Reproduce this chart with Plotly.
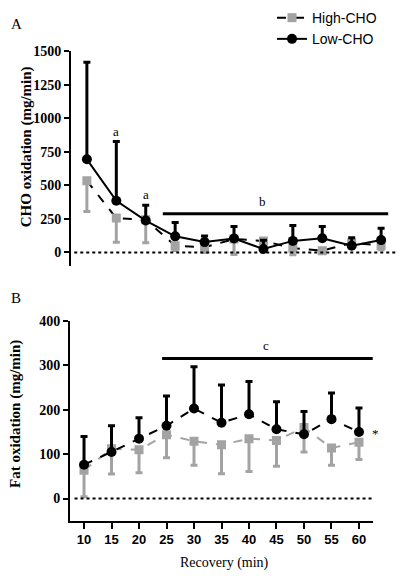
import plotly.graph_objects as go

time_min = [10, 15, 20, 25, 30, 35, 40, 45, 50, 55, 60]

# Panel A: CHO oxidation (mg/min)
cho_high_mean = [534, 256, 244, 50, 38, 100, 86, 32, 13, 70, 52]
cho_high_lower = [305, 76, 72, 15, 0, -15, 30, -17, 0, 40, 20]
cho_low_mean = [695, 385, 238, 120, 77, 104, 25, 86, 106, 50, 92]
cho_low_upper = [1420, 828, 352, 224, 122, 193, 90, 201, 193, 110, 180]

# Panel B: Fat oxidation (mg/min)
fat_high_mean = [64, 112, 110, 144, 129, 121, 135, 131, 160, 114, 127]
fat_high_lower = [4, 55, 58, 92, 75, 56, 61, 73, 105, 75, 88]
fat_low_mean = [76, 105, 135, 164, 203, 171, 190, 156, 145, 179, 150]
fat_low_upper = [140, 164, 182, 231, 297, 256, 264, 218, 196, 238, 204]

cho_ticks = [0, 250, 500, 750, 1000, 1250, 1500]
fat_ticks = [0, 100, 200, 300, 400]

GREY = "#a3a3a3"
SERIF = "Liberation Serif"
SANS = "Liberation Sans"


def diff(a, b):
    return [x - y for x, y in zip(a, b)]


fig = go.Figure()

# Panel A
fig.add_trace(go.Scatter(
    x=time_min, y=cho_high_mean, name="High-CHO", mode="lines+markers",
    line=dict(color="black", width=2, dash="dash"),
    marker=dict(symbol="square", size=9, color=GREY),
    error_y=dict(type="data", symmetric=False, array=[0] * len(time_min),
                 arrayminus=diff(cho_high_mean, cho_high_lower),
                 color=GREY, thickness=3, width=3.5),
    xaxis="x", yaxis="y"))
fig.add_trace(go.Scatter(
    x=time_min, y=cho_low_mean, name="Low-CHO", mode="lines+markers",
    line=dict(color="black", width=2),
    marker=dict(symbol="circle", size=10, color="black"),
    error_y=dict(type="data", symmetric=False, array=diff(cho_low_upper, cho_low_mean),
                 arrayminus=[0] * len(time_min),
                 color="black", thickness=3, width=3.5),
    xaxis="x", yaxis="y"))

# Panel B
fig.add_trace(go.Scatter(
    x=time_min, y=fat_high_mean, name="High-CHO", mode="lines+markers", showlegend=False,
    line=dict(color=GREY, width=2, dash="dash"),
    marker=dict(symbol="square", size=9, color=GREY),
    error_y=dict(type="data", symmetric=False, array=[0] * len(time_min),
                 arrayminus=diff(fat_high_mean, fat_high_lower),
                 color=GREY, thickness=3, width=3.5),
    xaxis="x2", yaxis="y2"))
fig.add_trace(go.Scatter(
    x=time_min, y=fat_low_mean, name="Low-CHO", mode="lines+markers", showlegend=False,
    line=dict(color="black", width=2, dash="dash"),
    marker=dict(symbol="circle", size=10, color="black"),
    error_y=dict(type="data", symmetric=False, array=diff(fat_low_upper, fat_low_mean),
                 arrayminus=[0] * len(time_min),
                 color="black", thickness=3, width=3.5),
    xaxis="x2", yaxis="y2"))


def yax(**kw):
    d = dict(showline=True, linecolor="black", linewidth=2, ticks="outside",
             ticklen=5, tickwidth=2, tickcolor="black", showgrid=False, zeroline=False,
             tickfont=dict(family=SERIF, size=14, color="black", weight="bold"))
    d.update(kw)
    return d


fig.update_layout(
    width=400, height=576,
    margin=dict(l=0, r=0, t=0, b=0),
    paper_bgcolor="white", plot_bgcolor="white",
    font=dict(family=SERIF, color="black"),
    xaxis=dict(domain=[71 / 400, 397 / 400], range=[7.3, 62.7], visible=False,
               anchor="y"),
    yaxis=yax(domain=[1 - 262 / 576, 1 - 45 / 576], range=[-100, 1500],
              tickvals=cho_ticks, anchor="x"),
    xaxis2=dict(domain=[70 / 400, 373 / 400], range=[7.45, 62.55], anchor="y2",
                showline=True, linecolor="black", linewidth=2, ticks="outside",
                ticklen=6, tickwidth=2, tickcolor="black", showgrid=False, zeroline=False,
                tickvals=time_min,
                tickfont=dict(family=SANS, size=13, color="black", weight="bold")),
    yaxis2=yax(domain=[1 - 520 / 576, 1 - 318 / 576], range=[-50, 400],
               tickvals=fat_ticks, anchor="x2"),
    legend=dict(x=272 / 400, y=1 + 5 / 576, xanchor="left", yanchor="top",
                font=dict(family=SANS, size=14, color="black"),
                bgcolor="rgba(0,0,0,0)", tracegroupgap=0),
    showlegend=True,
)

# zero dotted lines
fig.add_shape(type="line", xref="x domain", yref="y", x0=0.01, x1=1, y0=0, y1=0,
              line=dict(color="black", width=2, dash="dot"))
fig.add_shape(type="line", xref="x2 domain", yref="y2", x0=0.015, x1=1, y0=0, y1=0,
              line=dict(color="black", width=2, dash="dot"))

# significance bars
fig.add_shape(type="line", xref="x", yref="y", x0=22.9, x1=61.2, y0=288, y1=288,
              line=dict(color="black", width=3))
fig.add_shape(type="line", xref="x2", yref="y2", x0=24.2, x1=62.5, y0=316, y1=316,
              line=dict(color="black", width=3))

annots = [
    dict(text="a", x=15, y=905, xref="x", yref="y"),
    dict(text="a", x=20, y=430, xref="x", yref="y"),
    dict(text="b", x=39.8, y=380, xref="x", yref="y"),
    dict(text="c", x=43.1, y=345, xref="x2", yref="y2"),
    dict(text="*", x=375 / 400, y=147, xref="paper", yref="y2"),
]
for a in annots:
    fig.add_annotation(showarrow=False, xanchor="center", yanchor="middle",
                       font=dict(family=SERIF, size=13, color="black"), **a)

paper_texts = [
    dict(text="A", x=16 / 400, y=1 - 17 / 576, font=dict(family=SERIF, size=15, color="black")),
    dict(text="B", x=16 / 400, y=1 - 295 / 576, font=dict(family=SERIF, size=15, color="black")),
    dict(text="CHO oxidation (mg/min)", x=26 / 400, y=1 - 142 / 576, textangle=-90,
         font=dict(family=SERIF, size=15, color="black", weight="bold")),
    dict(text="Fat oxidation (mg/min)", x=16 / 400, y=1 - 412 / 576, textangle=-90,
         font=dict(family=SERIF, size=15, color="black", weight="bold")),
    dict(text="Recovery (min)", x=224 / 400, y=1 - 563 / 576,
         font=dict(family=SERIF, size=14, color="black")),
]
for t in paper_texts:
    fig.add_annotation(xref="paper", yref="paper", showarrow=False,
                       xanchor="center", yanchor="middle", **t)

fig.write_html("out.html", config={"displayModeBar": False},
               post_script="document.body.style.margin='0px';")
